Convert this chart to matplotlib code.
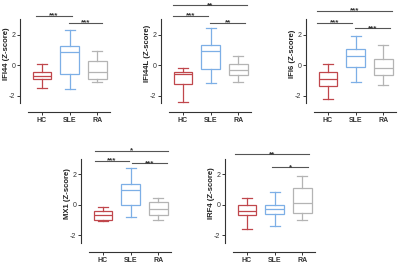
import matplotlib
matplotlib.use("Agg")
import matplotlib.pyplot as plt

plt.rcParams['font.family'] = ['Liberation Sans', 'DejaVu Sans']

groups = ["HC", "SLE", "RA"]
colors = ["#c0474c", "#7dafe6", "#b4b4b4"]

# box stats per panel: (whislo, q1, med, q3, whishi) for HC, SLE, RA
ifi44 = [(-1.47, -0.90, -0.70, -0.48, 0.07),
         (-1.56, -0.57, 0.88, 1.23, 2.29),
         (-1.10, -0.90, -0.44, 0.26, 0.95)]
ifi44l = [(-2.40, -1.25, -0.57, -0.42, -0.20),
          (-1.19, -0.26, 0.95, 1.34, 2.44),
          (-1.14, -0.64, -0.31, 0.07, 0.57)]
ifi6 = [(-2.24, -1.36, -0.88, -0.48, 0.07),
        (-1.08, -0.15, 0.62, 1.05, 1.89),
        (-1.30, -0.68, -0.20, 0.42, 1.34)]
mx1 = [(-1.05, -0.97, -0.68, -0.40, -0.13),
       (-0.79, 0.00, 0.97, 1.36, 2.44),
       (-1.01, -0.68, -0.29, 0.18, 0.44)]
irf4 = [(-1.56, -0.64, -0.38, -0.02, 0.48),
        (-1.38, -0.62, -0.29, -0.02, 0.86),
        (-1.01, -0.51, 0.09, 1.12, 1.91)]

# significance brackets: (x_start, x_end, y, label)
sig_ifi44 = [(-0.22, 1.08, 3.26, "***"), (0.96, 2.17, 2.80, "***")]
sig_ifi44l = [(-0.38, 2.31, 3.92, "**"), (-0.38, 0.90, 3.24, "***"), (0.98, 2.25, 2.80, "**")]
sig_ifi6 = [(-0.41, 2.32, 3.57, "***"), (-0.41, 0.88, 2.80, "***"), (0.98, 2.25, 2.43, "***")]
sig_mx1 = [(-0.31, 2.36, 3.55, "*"), (-0.31, 0.94, 2.90, "***"), (1.06, 2.32, 2.72, "***")]
sig_irf4 = [(-0.45, 2.25, 3.31, "**"), (0.92, 2.20, 2.46, "*")]

panels = [
    ("IFI44 (Z-score)", ifi44, sig_ifi44, 20, 112),
    ("IFI44L (Z-score)", ifi44l, sig_ifi44l, 161, 112),
    ("IFI6 (Z-score)", ifi6, sig_ifi6, 306, 112),
    ("MX1 (Z-score)", mx1, sig_mx1, 81, 251.7),
    ("IRF4 (Z-score)", irf4, sig_irf4, 225, 251.7),
]

W, H = 400, 263
fig = plt.figure(figsize=(W / 100, H / 100), dpi=100)

for label, stats, sigs, x0, yb in panels:
    ax = fig.add_axes([x0 / W, (H - yb) / H, 91 / W, 112.3 / H])
    bxp = []
    for s in stats:
        bxp.append(dict(whislo=s[0], q1=s[1], med=s[2], q3=s[3], whishi=s[4], fliers=[]))
    bp = ax.bxp(bxp, positions=[0, 1, 2], widths=0.68, showfliers=False,
                capwidths=0.36, patch_artist=True)
    for i, c in enumerate(colors):
        bp['boxes'][i].set(facecolor="white", edgecolor=c, linewidth=0.9)
        bp['medians'][i].set(color=c, linewidth=0.9)
        for j in (2 * i, 2 * i + 1):
            bp['whiskers'][j].set(color=c, linewidth=0.9)
            bp['caps'][j].set(color=c, linewidth=0.9)

    for xa, xb, y, txt in sigs:
        ax.plot([xa, xb], [y, y], color="#555555", lw=0.8, clip_on=False)
        ax.text((xa + xb) / 2, y - 0.12, txt, ha="center", va="baseline",
                fontsize=5.8, fontweight="bold", color="#333333", clip_on=False)

    ax.set_xlim(-0.8, 2.5)
    ax.set_ylim(-3.08, 4.3)
    ax.set_yticks([-2, 0, 2])
    ax.set_yticklabels(["-2", "0", "2"])
    ax.set_xticks([0, 1, 2])
    ax.set_xticklabels(groups, fontweight="bold")
    ax.spines['top'].set_visible(False)
    ax.spines['right'].set_visible(False)
    ax.spines['left'].set_bounds(-2.5, 3)
    ax.spines['bottom'].set_bounds(-0.5, 2.47)
    for sp in ('left', 'bottom'):
        ax.spines[sp].set_linewidth(0.8)
        ax.spines[sp].set_color("#333333")
    ax.tick_params(axis='both', length=2, width=0.7, pad=1.5, labelsize=5,
                   colors="#333333")
    ax.set_ylabel(label, fontsize=5.6, fontweight="bold", color="#222222")
    ax.yaxis.set_label_coords(-0.105, 0.52)
    ax.patch.set_alpha(0)

fig.savefig("out.png", dpi=100)
